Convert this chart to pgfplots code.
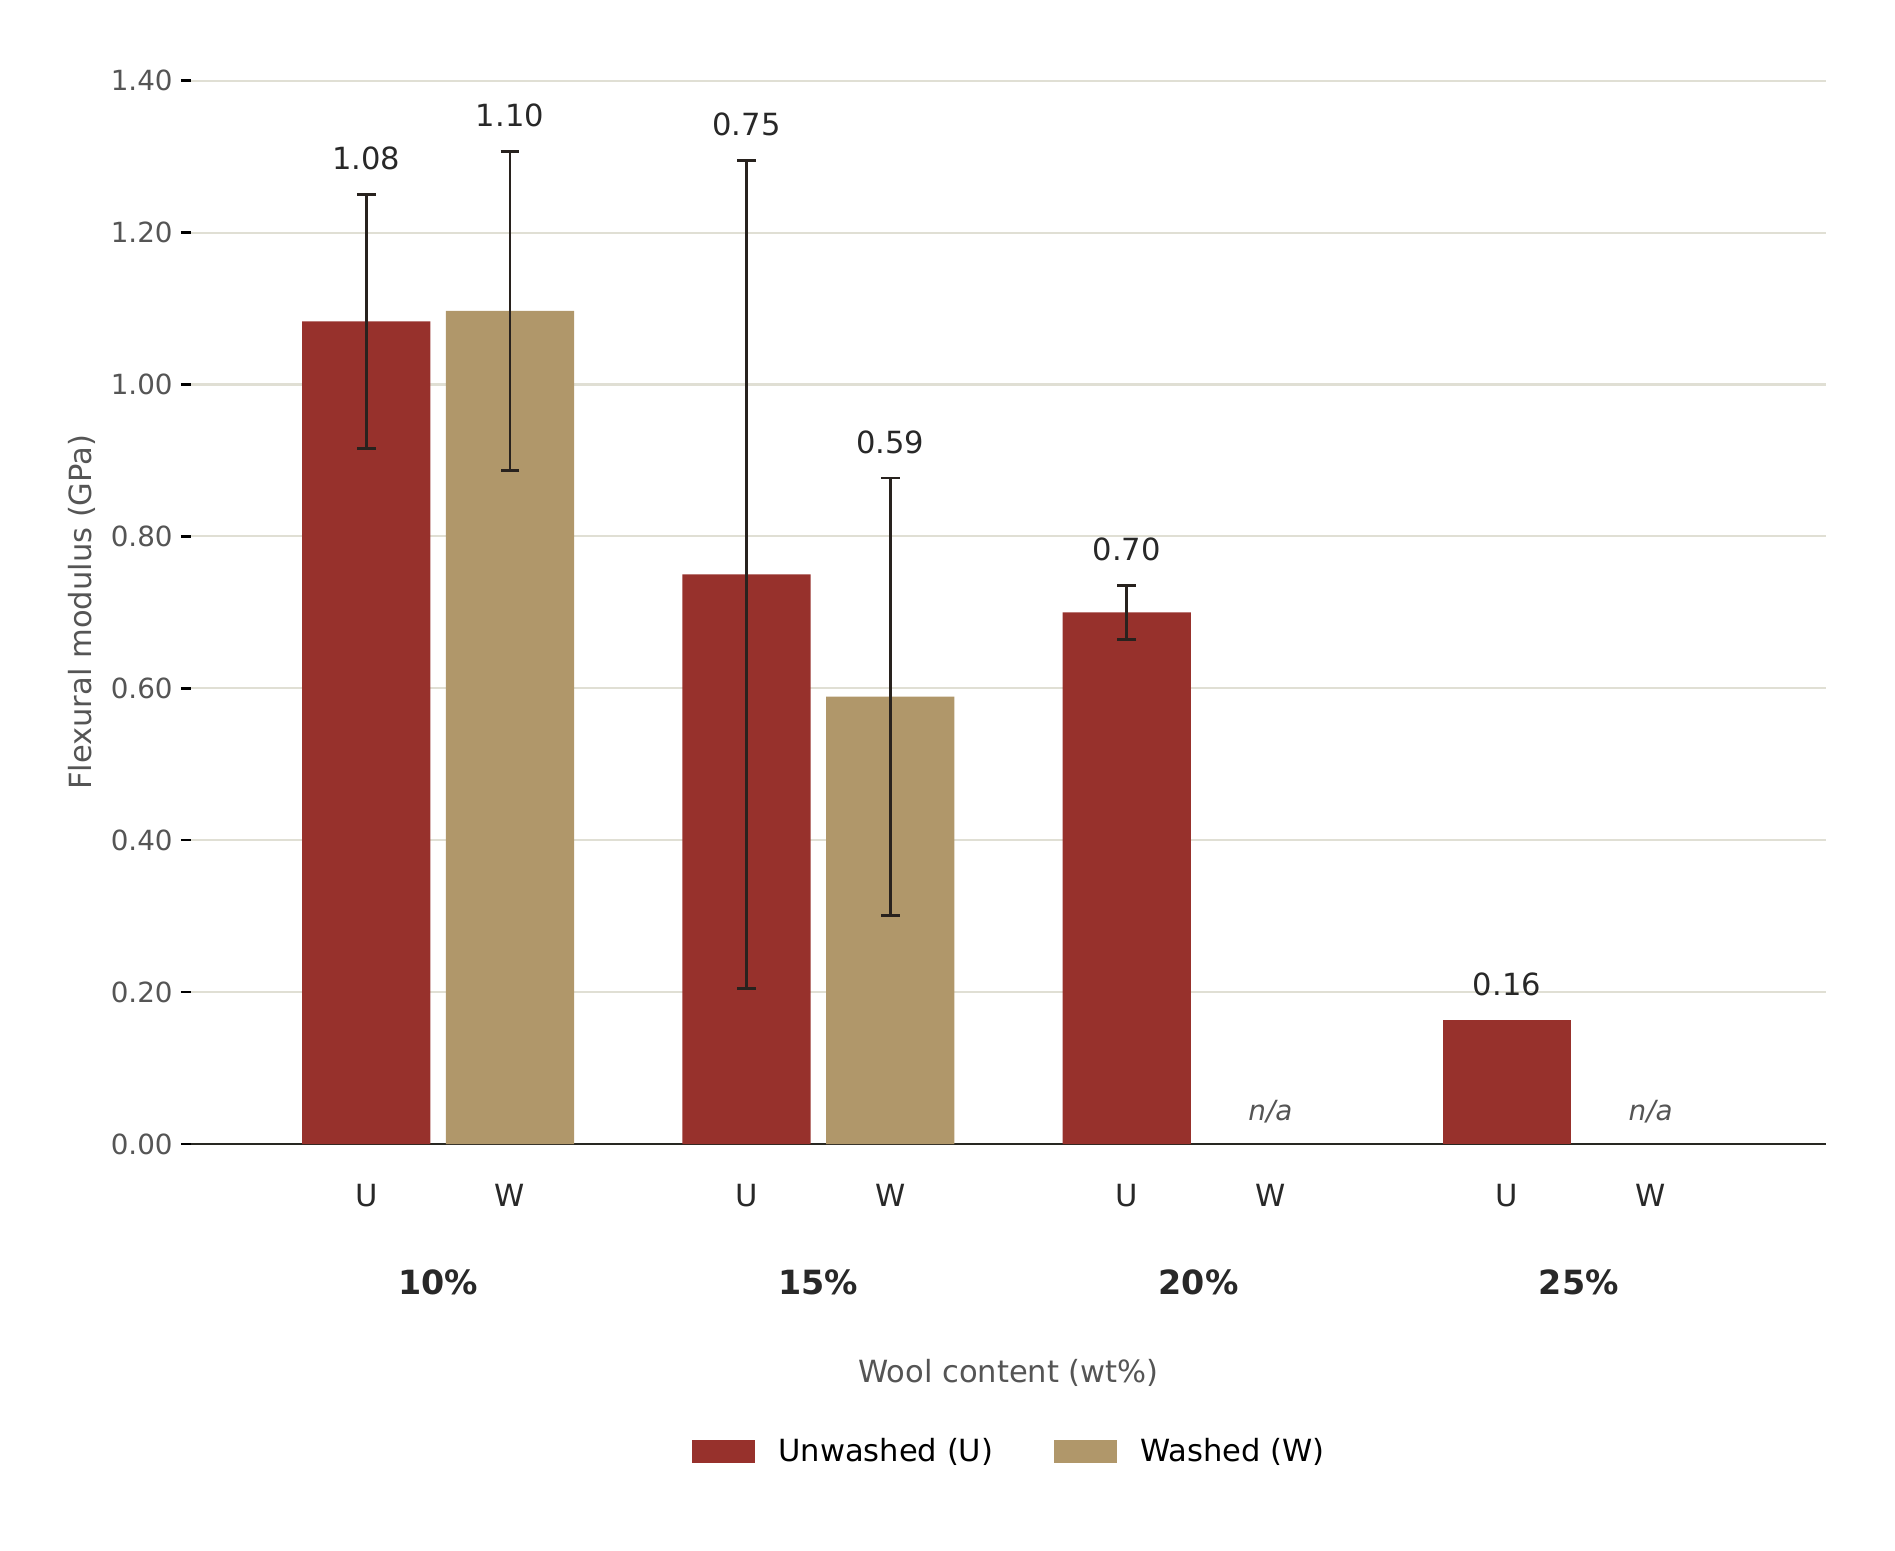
\documentclass[border=0pt]{standalone}
\usepackage{pgfplots}
\pgfplotsset{compat=1.18}
\usepackage{pgfplotstable}
\usepackage{fontspec}
\setmainfont{DejaVu Sans}[
  ItalicFont={DejaVu Sans Oblique},
  BoldFont={DejaVu Sans Bold},
  BoldItalicFont={DejaVu Sans Bold Oblique}]

\definecolor{unwashed}{RGB}{151,49,44}
\definecolor{washed}{RGB}{176,151,106}
\definecolor{gridc}{RGB}{224,223,212}
\definecolor{axisc}{RGB}{40,40,34}
\definecolor{errc}{RGB}{40,34,30}
\definecolor{ticktext}{RGB}{85,85,85}
\definecolor{labeltext}{RGB}{40,40,40}

% mean flexural modulus (GPa) and standard deviation
\pgfplotstableread{
x      y      e
-0.189 1.083  0.167
0.811  0.750  0.545
1.811  0.700  0.0355
}\unwashedErr
\pgfplotstableread{
x      y      e
2.811  0.163  0
}\unwashedNoErr
\pgfplotstableread{
x      y      e
0.189  1.097  0.210
1.189  0.589  0.288
}\washedErr

\pgfplotsset{
  valuelabels/.style={
    nodes near coords={\pgfmathprintnumber[fixed,fixed zerofill,precision=2,assume math mode=true]{\pgfplotspointmeta}},
    visualization depends on={\thisrow{e} \as \myerr},
    every node near coord/.append style={
      font=\fontsize{11}{13}\selectfont, text=labeltext, inner sep=0pt,
      shift={(axis direction cs:0,\myerr)}, yshift=8.6pt},
  },
  errstyle/.style={
    error bars/.cd, y dir=both, y explicit,
    error bar style={line width=1pt, errc},
    error mark options={rotate=90, line width=1pt, errc, mark size=3.4pt},
  },
}

\begin{document}
\begin{tikzpicture}
\useasboundingbox (-68.76pt,-146.16pt) rectangle (613.44pt,411.84pt);
\begin{axis}[
  at={(0pt,0pt)}, anchor=south west,
  width=588.6pt, height=382.8pt, scale only axis,
  xmin=-0.65, xmax=3.65, ymin=0, ymax=1.4,
  clip=false,
  axis x line=bottom, axis y line=left,
  x axis line style={-, line width=1pt, color=axisc},
  y axis line style={draw=none},
  ymajorgrids, grid style={line width=0.75pt, color=gridc},
  ytick={0,0.2,0.4,0.6,0.8,1.0,1.2,1.4},
  tick align=outside, major tick length=3.6pt,
  ytick style={line width=0.9pt, color=black},
  xtick style={draw=none},
  yticklabel style={font=\fontsize{10}{12}\selectfont, text=ticktext, anchor=east, inner sep=0pt, xshift=-2.8pt,
    /pgf/number format/.cd, fixed, fixed zerofill, precision=2, assume math mode=true},
  xtick={-0.189,0.189,0.811,1.189,1.811,2.189,2.811,3.189},
  xticklabels={U,W,U,W,U,W,U,W},
  xticklabel style={font=\fontsize{11}{13}\selectfont, text=labeltext, anchor=base, inner sep=0pt, yshift=-18.9pt},
  extra x ticks={0,1,2,3},
  extra x tick labels={10\%,15\%,20\%,25\%},
  extra x tick style={grid=none, xticklabel style={yshift=-31.7pt, font=\fontsize{12}{14}\selectfont\bfseries}},
  xlabel={Wool content (wt\%)},
  xlabel style={at={(axis description cs:0.5,-0.2247)}, anchor=base, font=\fontsize{11}{13}\selectfont, text=ticktext},
  ylabel={Flexural modulus (GPa)},
  ylabel style={at={(axis description cs:-0.0668,0.5)}, anchor=center, font=\fontsize{11}{13}\selectfont, text=ticktext},
  legend columns=2,
  legend style={at={(axis description cs:0.5,-0.2892)}, anchor=center, draw=none, fill=none,
    font=\fontsize{11}{13}\selectfont, text=black,
    nodes={inner sep=0pt},
    /tikz/every odd column/.append style={column sep=8.3pt},
    /tikz/every even column/.append style={column sep=22pt}},
  legend image code/.code={\fill[#1] (0pt,-4.3pt) rectangle (22.7pt,4.3pt);},
]
\addplot[ybar, bar shift=0pt, bar width=0.337, fill=unwashed, draw=none, valuelabels, errstyle]
  table[x=x, y=y, y error=e] {\unwashedErr};
\addlegendentry{Unwashed (U)}
\addplot[ybar, bar shift=0pt, bar width=0.337, fill=unwashed, draw=none, valuelabels, forget plot]
  table[x=x, y=y] {\unwashedNoErr};
\addplot[ybar, bar shift=0pt, bar width=0.337, fill=washed, draw=none, valuelabels, errstyle]
  table[x=x, y=y, y error=e] {\washedErr};
\addlegendentry{Washed (W)}

% washed samples not tested at 20% and 25%
\node[font=\fontsize{10}{12}\selectfont\itshape, text=ticktext, anchor=base, yshift=8.5pt] at (axis cs:2.189,0) {n/a};
\node[font=\fontsize{10}{12}\selectfont\itshape, text=ticktext, anchor=base, yshift=8.5pt] at (axis cs:3.189,0) {n/a};
\end{axis}
\end{tikzpicture}
\end{document}
